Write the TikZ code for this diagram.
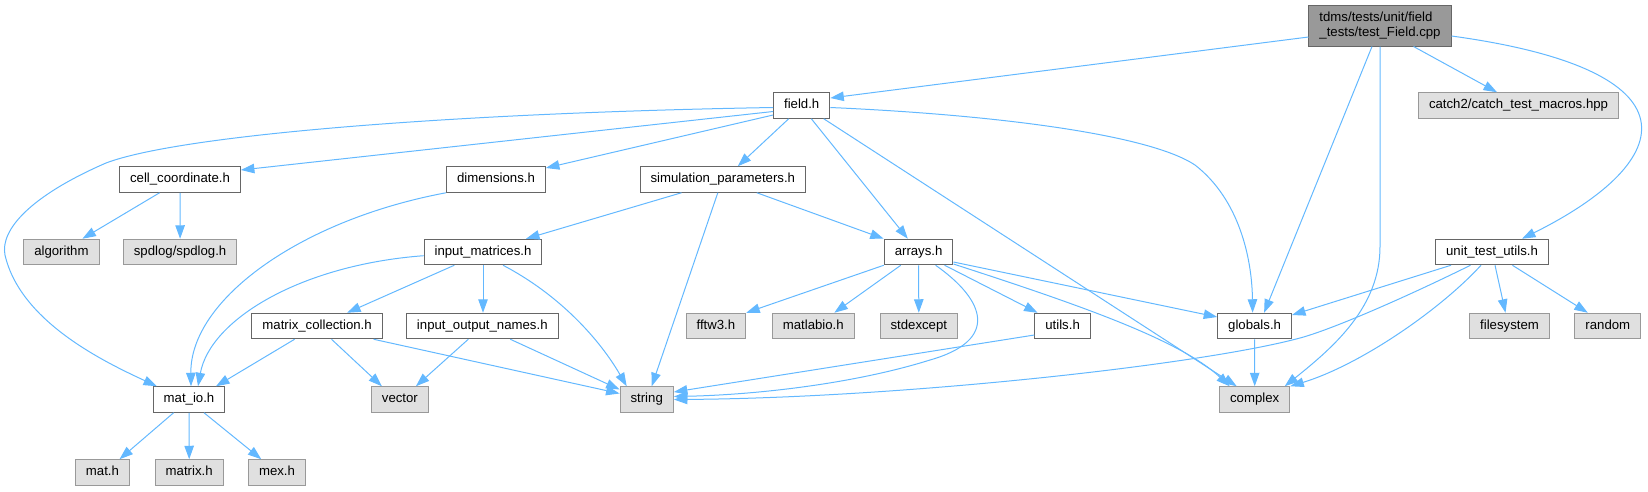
\documentclass[tikz,border=0pt]{standalone}
\usepackage{fontspec}
\setmainfont{Liberation Sans}
\usepackage{tikz}
\usetikzlibrary{arrows.meta}
\definecolor{edgeblue}{HTML}{63B8FF}
\definecolor{boxline}{HTML}{666666}
\definecolor{extline}{HTML}{999999}
\definecolor{extfill}{HTML}{E0E0E0}
\definecolor{rootfill}{HTML}{999999}

\begin{document}
\begin{tikzpicture}[x=1pt,y=-1pt,
  file/.style={rectangle,draw=boxline,fill=white,line width=1pt,font=\fontsize{13.2}{15.3}\selectfont,inner xsep=10.5pt,inner ysep=0pt,minimum height=25.5pt,text height=9.6pt,text depth=2.8pt},
  sysfile/.style={file,draw=extline,fill=extfill},
  mainfile/.style={rectangle,draw=boxline,fill=rootfill,line width=1pt,font=\fontsize{13.2}{15.3}\selectfont,align=left,inner xsep=10.5pt,inner ysep=0pt,minimum height=41pt},
  arrow/.style={-{Triangle[length=13.5pt,width=9.5pt]},draw=edgeblue,line width=1pt}
]
\useasboundingbox (0,0) rectangle (1648,491);

% files
\node[mainfile] (root) at (1380,25.5) {tdms/tests/unit/field\\\_tests/test\_Field.cpp};
\node[file] (field) at (801.7,105.5) {field.h};
\node[sysfile] (catch) at (1518.5,105.5) {catch2/catch\_test\_macros.hpp};
\node[file] (cellcoord) at (180,179.5) {cell\_coordinate.h};
\node[file] (dims) at (496,179.5) {dimensions.h};
\node[file] (simparams) at (722.8,179.5) {simulation\_parameters.h};
\node[sysfile] (algo) at (61.4,252) {algorithm};
\node[sysfile] (spdlog) at (180.1,252) {spdlog/spdlog.h};
\node[file] (inmat) at (483,252) {input\_matrices.h};
\node[file] (arrays) at (918.6,252) {arrays.h};
\node[file] (utu) at (1492,252) {unit\_test\_utils.h};
\node[file] (matcoll) at (317.1,326) {matrix\_collection.h};
\node[file] (ionames) at (482.3,326) {input\_output\_names.h};
\node[sysfile] (fftw) at (715.9,326) {fftw3.h};
\node[sysfile] (matlabio) at (813.3,326) {matlabio.h};
\node[sysfile] (stdexc) at (918.8,326) {stdexcept};
\node[file] (utils) at (1062.6,326) {utils.h};
\node[file] (globals) at (1254.6,326) {globals.h};
\node[sysfile] (filesys) at (1509.5,326) {filesystem};
\node[sysfile] (random) at (1607.8,326) {random};
\node[file] (matio) at (189,399.5) {mat\_io.h};
\node[sysfile] (vector) at (399.9,399.5) {vector};
\node[sysfile] (string) at (646.7,399.5) {string};
\node[sysfile] (complex) at (1254.7,399.5) {complex};
\node[sysfile] (math) at (102.5,472.5) {mat.h};
\node[sysfile] (matrixh) at (189.2,472.5) {matrix.h};
\node[sysfile] (mexh) at (277,472.5) {mex.h};

% includes of the test file
\draw[arrow] ([yshift=-11.5pt]root.west) -- ([yshift=7.5pt]field.east);
\draw[arrow] ([xshift=-8pt]root.south) -- ([xshift=9.5pt]globals.north);
\draw[arrow] (root.south) -- ++(0,200) .. controls +(0,60) and +(50,-40) .. ([xshift=30pt]complex.north);
\draw[arrow] ([xshift=33.5pt]root.south) -- ([xshift=-21.5pt]catch.north);
\draw[arrow] ([yshift=-10.5pt]root.east) .. controls (1700,70) and (1680,160) .. ([xshift=30pt]utu.north);

% field.h
\draw[arrow] ([yshift=-6pt]field.west) -- ([yshift=9.5pt]cellcoord.east);
\draw[arrow] ([yshift=-2pt]field.west) .. controls (450,113) and (180,135) .. (106,163) .. controls (30,196) and (0,230) .. (5,255) .. controls (20,320) and (100,360) .. ([xshift=-32pt]matio.north);
\draw[arrow] ([yshift=-9.5pt]field.west) -- ([yshift=11.5pt]dims.east);
\draw[arrow] ([xshift=-13pt]field.south) -- ([xshift=15pt]simparams.north);
\draw[arrow] ([xshift=9.6pt]field.south) -- ([xshift=-10.8pt]arrays.north);
\draw[arrow] ([xshift=22pt]field.south) -- ([xshift=-18pt]complex.north);
\draw[arrow] ([yshift=-2pt]field.east) .. controls (1000,115) and (1150,135) .. (1195,165) .. controls (1240,200) and (1252,260) .. ([xshift=-2pt]globals.north);

% cell_coordinate.h, dimensions.h
\draw[arrow] ([xshift=-20.4pt]cellcoord.south) -- ([xshift=21pt]algo.north);
\draw[arrow] (cellcoord.south) -- (spdlog.north);
\draw[arrow] (dims.south west) .. controls (300,220) and (190,300) .. ([xshift=2pt]matio.north);

% simulation_parameters.h
\draw[arrow] ([xshift=-41.3pt]simparams.south) -- ([xshift=43pt]inmat.north);
\draw[arrow] ([xshift=-5pt]simparams.south) -- ([xshift=5pt]string.north);
\draw[arrow] ([xshift=34pt]simparams.south) -- (arrays.north west);

% input_matrices.h
\draw[arrow] ([yshift=-3.7pt]inmat.west) .. controls (300,265) and (210,320) .. ([xshift=9pt]matio.north);
\draw[arrow] ([xshift=-28.7pt]inmat.south) -- ([xshift=30pt]matcoll.north);
\draw[arrow] (inmat.south) -- (inmat.south |- ionames.north);
\draw[arrow] ([xshift=20pt]inmat.south) .. controls (560,295) and (600,340) .. ([xshift=-20pt]string.north);

% matrix_collection.h, input_output_names.h
\draw[arrow] ([xshift=-22.5pt]matcoll.south) -- ([xshift=27pt]matio.north);
\draw[arrow] ([xshift=14.4pt]matcoll.south) -- ([xshift=-18pt]vector.north);
\draw[arrow] ([xshift=56.5pt]matcoll.south) -- ([yshift=6pt]string.west);
\draw[arrow] ([xshift=-14pt]ionames.south) -- ([xshift=16pt]vector.north);
\draw[arrow] ([xshift=28pt]ionames.south) -- ([yshift=10pt]string.west);

% arrays.h
\draw[arrow] (arrays.south west) -- (fftw.north east);
\draw[arrow] ([xshift=-17.8pt]arrays.south) -- ([xshift=21pt]matlabio.north);
\draw[arrow] (arrays.south) -- (stdexc.north);
\draw[arrow] ([xshift=17pt]arrays.south) .. controls (985,300) and (1000,340) .. (930,360) .. controls (850,385) and (750,395) .. ([yshift=3pt]string.east);
\draw[arrow] ([xshift=26pt]arrays.south) -- ([xshift=-25pt]utils.north);
\draw[arrow] ([yshift=-12pt]arrays.east) .. controls (1080,305) and (1180,340) .. ([xshift=-25pt]complex.north);
\draw[arrow] ([yshift=-10pt]arrays.east) -- ([yshift=9pt]globals.west);

% utils.h, globals.h
\draw[arrow] ([yshift=-9pt]utils.west) -- ([yshift=7.5pt]string.east);
\draw[arrow] (globals.south) -- (complex.north);

% unit_test_utils.h
\draw[arrow] ([xshift=-41pt]utu.south) -- ([yshift=11pt]globals.east);
\draw[arrow] ([xshift=-21.5pt]utu.south) .. controls (1400,300) and (1330,330) .. (1300,338) .. controls (1200,365) and (900,398) .. (string.east);
\draw[arrow] ([xshift=-11pt]utu.south) .. controls (1440,310) and (1360,365) .. (complex.north east);
\draw[arrow] ([xshift=3pt]utu.south) -- ([xshift=-4pt]filesys.north);
\draw[arrow] ([xshift=20.4pt]utu.south) -- ([xshift=-20pt]random.north);

% mat_io.h
\draw[arrow] ([xshift=-15.4pt]matio.south) -- ([xshift=17pt]math.north);
\draw[arrow] (matio.south) -- (matrixh.north);
\draw[arrow] ([xshift=15pt]matio.south) -- ([xshift=-15.7pt]mexh.north);
\end{tikzpicture}
\end{document}
